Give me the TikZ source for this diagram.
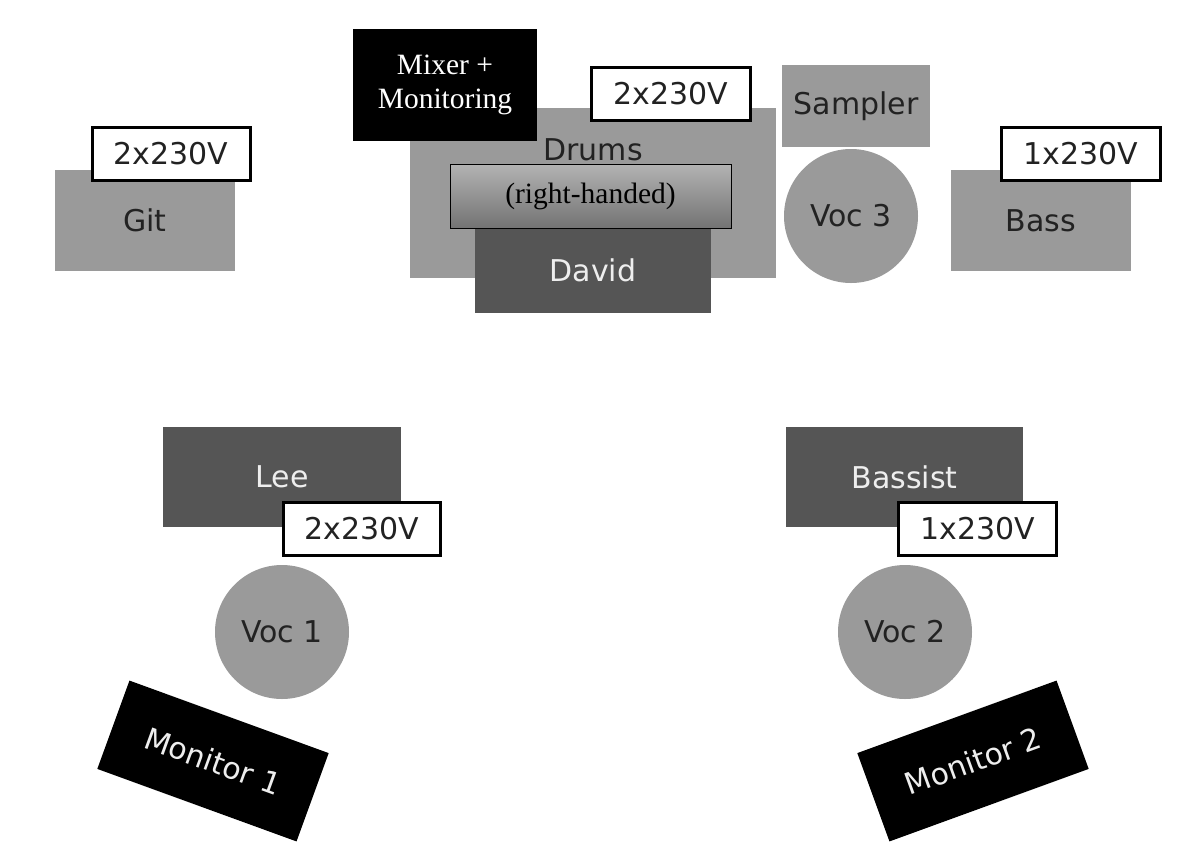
\documentclass[tikz,border=0pt]{standalone}
\usepackage{fontspec}
\setmainfont{Liberation Serif}
\newfontfamily\dv{DejaVu Sans}
\definecolor{lgray}{HTML}{9A9A9A}
\definecolor{dgray}{HTML}{555555}
\definecolor{dtext}{HTML}{222222}
\definecolor{ltext}{HTML}{EEEEEE}
\begin{document}
\begin{tikzpicture}[x=1pt,y=-1pt,
  base/.style={inner sep=0pt, outer sep=0pt},
  gbox/.style={base, rectangle, fill=lgray, text=dtext, font=\dv\fontsize{30}{36}\selectfont},
  dbox/.style={base, rectangle, fill=dgray, text=ltext, font=\dv\fontsize{30}{36}\selectfont},
  gcirc/.style={base, circle, fill=lgray, text=dtext, minimum size=134pt, font=\dv\fontsize{30}{36}\selectfont},
  power/.style={base, rectangle, fill=white, draw=black, line width=3pt, text=dtext, minimum width=#1, minimum height=53pt, font=\dv\fontsize{30}{36}\selectfont},
  monbox/.style={base, rectangle, fill=black, text=ltext, minimum width=212pt, minimum height=94pt, font=\dv\fontsize{30}{36}\selectfont},
  serifbox/.style={base, rectangle, font=\fontsize{29.5}{34}\selectfont, align=center}
]
\useasboundingbox (0,0) rectangle (1195,863);

% Guitar
\node[gbox, minimum width=180pt, minimum height=101pt] (git) at (145,220.5) {Git};
\node[power=158pt] (gitpow) at (171,154) {2x230V};

% Drums
\node[gbox, minimum width=366pt, minimum height=170pt] (drums) at (593,193) {};
\node[base, text=dtext, font=\dv\fontsize{30}{36}\selectfont] (drumslbl) at (593,150) {Drums};
\node[dbox, minimum width=236pt, minimum height=85pt] (david) at (593,270.5) {David};
\node[serifbox, draw=black, line width=0.8pt, top color=black!30, bottom color=black!55, minimum width=281pt, minimum height=64pt] (hand) at (590.5,196) {(right-handed)};
\node[power=159pt] (drumpow) at (671,94) {2x230V};
\node[serifbox, fill=black, text=white, minimum width=184pt, minimum height=112pt] (mixer) at (445,85) {Mixer +\\Monitoring};

% Sampler and Voc 3
\node[gbox, minimum width=148pt, minimum height=82pt] (sampler) at (856,106) {Sampler};
\node[gcirc] (voc3) at (851,216) {Voc 3};

% Bass
\node[gbox, minimum width=180pt, minimum height=101pt] (bass) at (1041,220.5) {Bass};
\node[power=159pt] (basspow) at (1081,154) {1x230V};

% Lee
\node[dbox, minimum width=238pt, minimum height=100pt] (lee) at (282,477) {Lee};
\node[power=157pt] (leepow) at (362,529) {2x230V};
\node[gcirc] (voc1) at (282,632) {Voc 1};
\node[monbox, rotate=-20] (mon1) at (213,761) {Monitor 1};

% Bassist
\node[dbox, minimum width=237pt, minimum height=100pt] (bassist) at (904.5,477) {Bassist};
\node[power=158pt] (bassistpow) at (977.5,529) {1x230V};
\node[gcirc] (voc2) at (905,632) {Voc 2};
\node[monbox, rotate=20] (mon2) at (973,761) {Monitor 2};
\end{tikzpicture}
\end{document}
